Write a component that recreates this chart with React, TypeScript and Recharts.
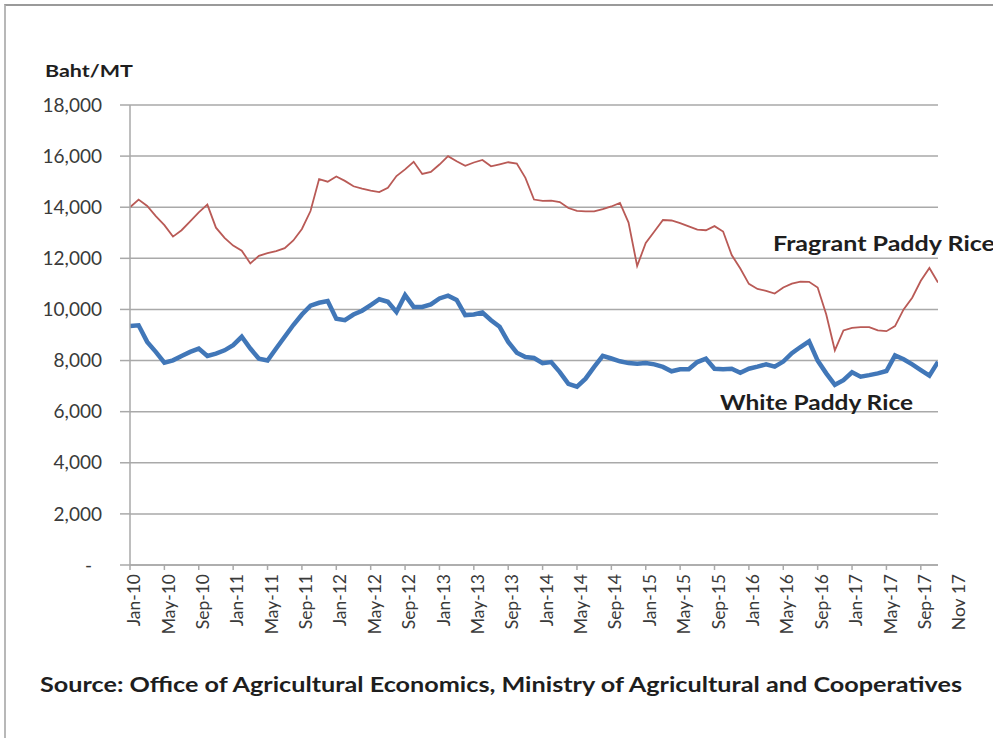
import { CartesianGrid, Line, LineChart, XAxis, YAxis } from 'recharts';

const MONTHS = ['Jan', 'Feb', 'Mar', 'Apr', 'May', 'Jun', 'Jul', 'Aug', 'Sep', 'Oct', 'Nov', 'Dec'];
const YEARS = ['10', '11', '12', '13', '14', '15', '16', '17'];

// Baht per metric ton, monthly from Jan-10 to Nov-17
const fragrantPaddy = [
  14000, 14300, 14050, 13650, 13300, 12850, 13100, 13450, 13800, 14100, 13200, 12800,
  12500, 12300, 11800, 12100, 12200, 12280, 12400, 12700, 13150, 13850, 15100, 15000,
  15200, 15030, 14820, 14730, 14650, 14590, 14760, 15220, 15480, 15780, 15300, 15380,
  15670, 16000, 15800, 15620, 15750, 15850, 15600, 15680, 15760, 15710, 15150, 14300,
  14250, 14260, 14200, 13970, 13860, 13840, 13840, 13930, 14030, 14170, 13400, 11700,
  12600, 13050, 13500, 13480, 13380, 13250, 13120, 13100, 13260, 13050, 12130, 11600,
  11000, 10800, 10730, 10620, 10860, 11010, 11090, 11080, 10860, 9800, 8400, 9180,
  9280, 9310, 9310, 9180, 9150, 9350, 10000, 10460, 11120, 11620, 11050,
];

const whitePaddy = [
  9350, 9380, 8730, 8340, 7920, 8010, 8180, 8340, 8470, 8180, 8270, 8400,
  8600, 8930, 8470, 8070, 8000, 8470, 8930, 9390, 9800, 10150, 10260, 10330,
  9640, 9580, 9800, 9950, 10170, 10400, 10300, 9900, 10560, 10100, 10100, 10200,
  10430, 10540, 10370, 9780, 9800, 9880, 9580, 9320, 8730, 8310, 8140, 8100,
  7900, 7940, 7550, 7090, 6980, 7290, 7750, 8180, 8080, 7970, 7900, 7880,
  7900, 7850, 7750, 7580, 7660, 7660, 7940, 8070, 7680, 7660, 7680, 7520,
  7680, 7760, 7850, 7760, 7960, 8290, 8530, 8750, 8000, 7500, 7050, 7230,
  7540, 7370, 7430, 7500, 7590, 8200, 8050, 7850, 7630, 7410, 7950,
];

const yTicks = [0, 2000, 4000, 6000, 8000, 10000, 12000, 14000, 16000, 18000];
// every fourth month is labelled, plus a trailing label past the last point
const xTicks = [0, 4, 8, 12, 16, 20, 24, 28, 32, 36, 40, 44, 48, 52, 56, 60, 64, 68, 72, 76, 80, 84, 88, 92, 96];
const trailingLabel = 'Nov 17';

const data = fragrantPaddy.map((v, i) => ({
  idx: i,
  month: `${MONTHS[i % 12]}-${YEARS[Math.floor(i / 12)]}`,
  fragrant: v,
  white: whitePaddy[i],
}));

const FONT = 'Lato, "Open Sans", sans-serif';
const AXIS_GREY = '#a9a9a9';

const MonthTick = (props: any) => {
  const { x, y, payload } = props;
  const v = payload.value as number;
  const label = v < data.length ? data[v].month : trailingLabel;
  const tx = x + 4;
  const ty = y + 9;
  return (
    <g>
      {v < data.length && <line x1={x} x2={x} y1={y} y2={y + 5} stroke={AXIS_GREY} strokeWidth={1.5} />}
      <text
        x={tx}
        y={ty}
        dy="0.35em"
        textAnchor="end"
        transform={`rotate(-90, ${tx}, ${ty})`}
        fontSize={17.5}
        fontFamily={FONT}
        fill="#3a3a3a"
      >
        {label}
      </text>
    </g>
  );
};

const PriceTick = (props: any) => {
  const { x, y, payload } = props;
  const v = payload.value as number;
  return (
    <text
      x={v === 0 ? x - 10 : x}
      y={y}
      dy="0.35em"
      textAnchor="end"
      fontSize={19}
      fontFamily={FONT}
      fill="#3a3a3a"
    >
      {v === 0 ? '-' : v.toLocaleString('en-US')}
    </text>
  );
};

export default function App() {
  return (
    <div style={{ position: 'absolute', left: 0, top: 0, width: 993, height: 738, background: '#fff', overflow: 'hidden' }}>
      <div
        style={{
          position: 'absolute',
          left: 4,
          top: 4,
          right: 0,
          bottom: 0,
          borderTop: '2px solid #9a9a9a',
          borderLeft: '2px solid #b8b8b8',
        }}
      />
      <LineChart
        width={993}
        height={738}
        data={data}
        margin={{ top: 105, right: 55, bottom: 83, left: 0 }}
      >
        <CartesianGrid vertical={false} stroke={AXIS_GREY} strokeWidth={1.5} />
        <XAxis
          dataKey="idx"
          type="number"
          domain={[0, data.length - 1]}
          ticks={xTicks}
          interval={0}
          height={90}
          tickSize={0}
          tickMargin={0}
          tickLine={false}
          axisLine={{ stroke: AXIS_GREY, strokeWidth: 1.5 }}
          tick={<MonthTick />}
          allowDataOverflow
        />
        <YAxis
          width={130}
          domain={[0, 18000]}
          ticks={yTicks}
          interval={0}
          tickSize={10}
          tickMargin={18}
          tickLine={{ stroke: AXIS_GREY, strokeWidth: 1.5 }}
          axisLine={{ stroke: AXIS_GREY, strokeWidth: 1.5 }}
          tick={<PriceTick />}
        />
        <Line
          type="linear"
          dataKey="fragrant"
          stroke="#b95a56"
          strokeWidth={1.8}
          dot={false}
          isAnimationActive={false}
        />
        <Line
          type="linear"
          dataKey="white"
          stroke="#4177b8"
          strokeWidth={4.5}
          dot={false}
          isAnimationActive={false}
        />
      </LineChart>
      <svg
        width={993}
        height={738}
        style={{ position: 'absolute', left: 0, top: 0, pointerEvents: 'none' }}
        fontFamily={FONT}
        fontWeight="bold"
        fill="#1e1e1e"
      >
        <text x={45} y={77} fontSize={17} textLength={88} lengthAdjust="spacingAndGlyphs">
          Baht/MT
        </text>
        <text x={773} y={251} fontSize={21} textLength={222} lengthAdjust="spacingAndGlyphs">
          Fragrant Paddy Rice
        </text>
        <text x={720} y={410} fontSize={21} textLength={193} lengthAdjust="spacingAndGlyphs">
          White Paddy Rice
        </text>
        <text x={40} y={692} fontSize={21} textLength={922} lengthAdjust="spacingAndGlyphs">
          Source: Office of Agricultural Economics, Ministry of Agricultural and Cooperatives
        </text>
      </svg>
    </div>
  );
}
